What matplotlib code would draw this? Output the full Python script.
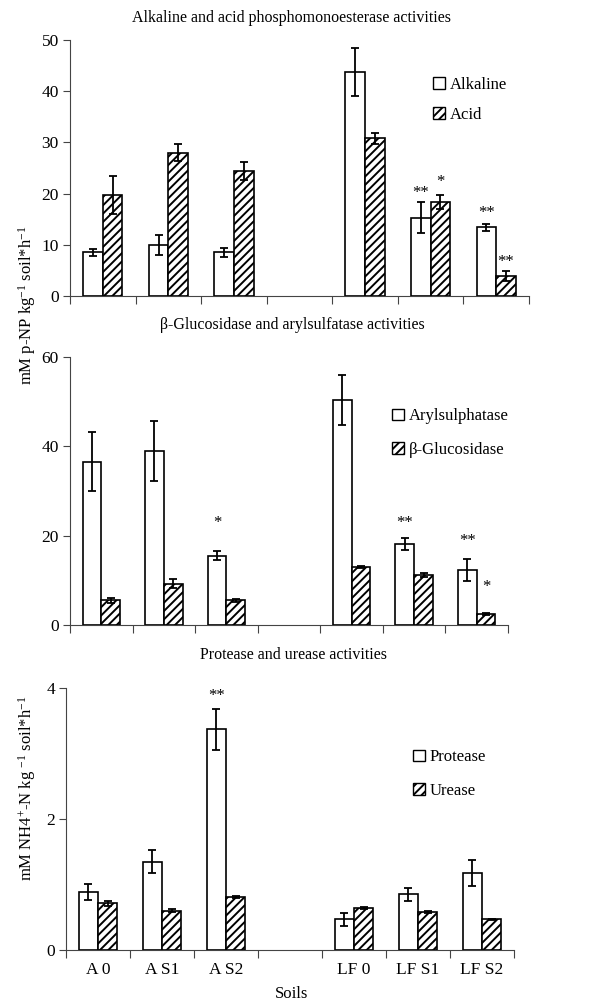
import numpy as np
import matplotlib.pyplot as plt
from matplotlib.patches import Patch

plt.rcParams['font.family'] = ['Liberation Serif', 'DejaVu Serif']
plt.rcParams['mathtext.fontset'] = 'custom'
plt.rcParams['mathtext.rm'] = 'Liberation Serif'
plt.rcParams['mathtext.it'] = 'Liberation Serif:italic'
plt.rcParams['hatch.linewidth'] = 1.4

# Datos
soils = ["A 0", "A S1", "A S2", "", "LF 0", "LF S1", "LF S2"]

alkaline = [8.5, 10.0, 8.5, 43.8, 15.3, 13.4]
alkaline_err = [0.65, 2.0, 0.9, 4.7, 3.0, 0.7]
acid = [19.7, 28.0, 24.4, 30.8, 18.3, 3.9]
acid_err = [3.7, 1.7, 1.8, 1.1, 1.4, 0.9]

arylsulphatase = [36.5, 39.0, 15.5, 50.4, 18.2, 12.3]
arylsulphatase_err = [6.6, 6.7, 1.0, 5.6, 1.3, 2.4]
glucosidase = [5.5, 9.2, 5.5, 12.9, 11.2, 2.5]
glucosidase_err = [0.6, 1.0, 0.3, 0.2, 0.5, 0.2]

protease = [0.89, 1.35, 3.37, 0.47, 0.85, 1.17]
protease_err = [0.12, 0.18, 0.31, 0.10, 0.10, 0.20]
urease = [0.71, 0.60, 0.81, 0.64, 0.58, 0.47]
urease_err = [0.04, 0.02, 0.02, 0.02, 0.01, 0.01]

# Asteriscos de significancia
alkaline_stars = ["", "", "", "", "**", "**"]
acid_stars = ["", "", "", "", "*", "**"]
aryl_stars = ["", "", "*", "", "**", "**"]
gluc_stars = ["", "", "", "", "", "*"]
protease_stars = ["", "", "**", "", "", ""]
urease_stars = ["", "", "", "", "", ""]

# separacion (pixeles) entre el error y el asterisco
alkaline_lift = [0, 0, 0, 0, 5, 7]
acid_lift = [0, 0, 0, 0, 9, 5]
aryl_lift = [0, 0, 24, 0, 11, 14]
gluc_lift = [0, 0, 0, 0, 0, 22]
protease_lift = [0, 0, 9, 0, 0, 0]
urease_lift = [0, 0, 0, 0, 0, 0]

W, H = 596, 1006
fig = plt.figure(figsize=(W / 100, H / 100), dpi=100)

pos = [i for i, s in enumerate(soils) if s]
width = 0.3


def add_axes(left, right, top, bottom):
    return fig.add_axes([left / W, 1 - bottom / H, (right - left) / W, (bottom - top) / H])


def panel(ax, a, a_err, a_st, a_lift, b, b_err, b_st, b_lift, ymax, step, names, leg_xy,
          spacing, labels=False):
    xa = [p - width / 2 for p in pos]
    xb = [p + width / 2 for p in pos]
    ax.bar(xa, a, width, color='white', edgecolor='black', linewidth=1.2)
    ax.bar(xb, b, width, color='white', edgecolor='black', linewidth=1.2, hatch='////')
    for x, v, e in ((xa, a, a_err), (xb, b, b_err)):
        ax.errorbar(x, v, yerr=e, fmt='none', ecolor='black', elinewidth=1.3,
                    capsize=3, capthick=1.3)
    for x, v, e, st, lift in ((xa, a, a_err, a_st, a_lift), (xb, b, b_err, b_st, b_lift)):
        for xi, vi, ei, s, l in zip(x, v, e, st, lift):
            if s:
                ax.annotate(s, (xi, vi + ei), xytext=(0, l), textcoords='offset pixels',
                            ha='center', va='baseline', fontsize=12)
    ax.set_xlim(-0.5, len(soils) - 0.5)
    ax.set_ylim(0, ymax)
    ax.set_yticks(np.arange(0, ymax + 0.01, step))
    ax.set_xticks(np.arange(-0.5, len(soils), 1))
    ax.set_xticklabels([])
    if labels:
        ax.set_xticks(range(len(soils)), minor=True)
        ax.set_xticklabels(soils, minor=True, fontsize=12.5)
        ax.tick_params(axis='x', which='minor', length=0, pad=9)
    ax.tick_params(axis='x', which='major', length=6, width=0.8, color='#444444')
    ax.tick_params(axis='y', length=5, width=0.8, color='#444444', labelsize=12.5, pad=3)
    for sp in ['top', 'right']:
        ax.spines[sp].set_visible(False)
    for sp in ['left', 'bottom']:
        ax.spines[sp].set_linewidth(0.8)
        ax.spines[sp].set_color('#444444')
    handles = [Patch(facecolor='white', edgecolor='black', linewidth=1, label=names[0]),
               Patch(facecolor='white', edgecolor='black', linewidth=1, hatch='////', label=names[1])]
    ax.legend(handles=handles, loc='center left', bbox_to_anchor=(leg_xy[0] / W, 1 - leg_xy[1] / H),
              bbox_transform=fig.transFigure, frameon=False, handlelength=0.7, handleheight=0.7,
              handletextpad=0.3, borderpad=0, borderaxespad=0, labelspacing=spacing, fontsize=12)


ax1 = add_axes(70, 529, 40, 296)
panel(ax1, alkaline, alkaline_err, alkaline_stars, alkaline_lift,
      acid, acid_err, acid_stars, acid_lift, 50, 10, ["Alkaline", "Acid"], (433, 100), 0.85)

ax2 = add_axes(70, 508, 357, 625)
panel(ax2, arylsulphatase, arylsulphatase_err, aryl_stars, aryl_lift,
      glucosidase, glucosidase_err, gluc_stars, gluc_lift, 60, 20,
      ["Arylsulphatase", "\u03b2-Glucosidase"], (392, 433), 1.05)

ax3 = add_axes(66, 514, 688, 950)
panel(ax3, protease, protease_err, protease_stars, protease_lift,
      urease, urease_err, urease_stars, urease_lift, 4, 2,
      ["Protease", "Urease"], (413, 774), 1.05, labels=True)

fig.text(292 / W, 1 - 18 / H, "Alkaline and acid phosphomonoesterase activities",
         ha='center', va='center', fontsize=11.5)
fig.text(292 / W, 1 - 325 / H, "\u03b2-Glucosidase and arylsulfatase activities",
         ha='center', va='center', fontsize=11.5)
fig.text(293 / W, 1 - 655 / H, "Protease and urease activities",
         ha='center', va='center', fontsize=11.5)

fig.text(27 / W, 1 - 305 / H, "mM p-NP kg$^{-1}$ soil*h$^{-1}$",
         rotation=90, ha='center', va='center', fontsize=12)
fig.text(27 / W, 1 - 788 / H, "mM NH4$^{+}$-N kg $^{-1}$ soil*h$^{-1}$",
         rotation=90, ha='center', va='center', fontsize=12)
fig.text(292 / W, 1 - 994 / H, "Soils", ha='center', va='center', fontsize=12)

fig.savefig("out.png", dpi=100)
